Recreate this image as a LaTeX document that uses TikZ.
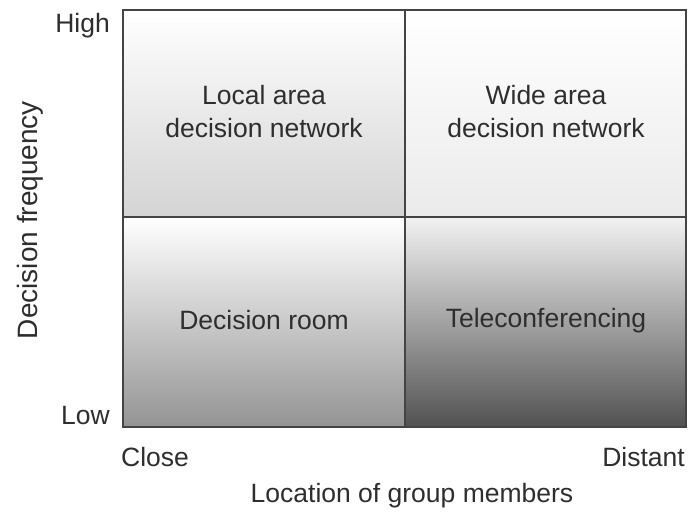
\documentclass[tikz,border=0pt]{standalone}
\usepackage{fontspec}
\setmainfont{Liberation Sans}
\definecolor{txt}{HTML}{2E2E2E}
\definecolor{edge}{HTML}{444444}
\begin{document}
\begin{tikzpicture}[x=1pt,y=-1pt,
  lbl/.style={font=\fontsize{26.5}{33}\selectfont, text=txt, inner sep=0pt, align=center},
  frame/.style={draw=edge, line width=2pt}]
\useasboundingbox[fill=white] (0,0) rectangle (689,512);
% corners
\coordinate (tl) at (123,10);
\coordinate (tm) at (405,10);
\coordinate (tr) at (686,10);
\coordinate (ml) at (123,217);
\coordinate (mm) at (405,217);
\coordinate (mr) at (686,217);
\coordinate (bl) at (123,427);
\coordinate (bm) at (405,427);
\coordinate (br) at (686,427);
% quadrant shadings
\shade[top color=white, bottom color=black!17] (tl) rectangle (mm);
\shade[top color=white, bottom color=black!8] (tm) rectangle (mr);
\shade[top color=white, bottom color=black!42] (ml) rectangle (bm);
\shade[top color=black!5, bottom color=black!68] (mm) rectangle (br);
% frame
\draw[frame] (tl) rectangle (br);
\draw[frame] (tm) -- (bm);
\draw[frame] (ml) -- (mr);
% quadrant labels
\node[lbl] (q1) at (264,112) {Local area\\decision network};
\node[lbl] (q2) at (546,112) {Wide area\\decision network};
\node[lbl] (q3) at (264,320) {Decision room};
\node[lbl] (q4) at (546,321) {Teleconferencing};
% axis labels
\node[lbl, anchor=east] (high) at (110,26) {High};
\node[lbl, anchor=east] (low) at (110,416) {Low};
\node[lbl, anchor=west] (close) at (121,457) {Close};
\node[lbl, anchor=east] (distant) at (685,457) {Distant};
\node[lbl] (xlab) at (412,496) {Location of group members};
\node[lbl, rotate=90, font=\fontsize{28}{33}\selectfont] (ylab) at (30,220) {Decision frequency};
\end{tikzpicture}
\end{document}
